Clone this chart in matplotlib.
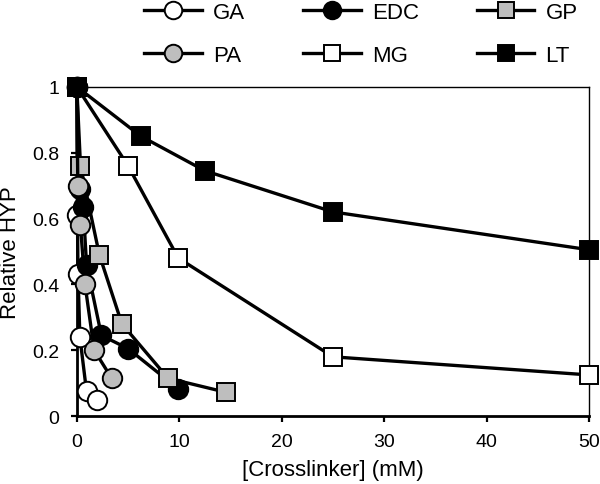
import matplotlib
matplotlib.use("Agg")
import matplotlib.pyplot as plt
from matplotlib.ticker import FixedLocator

plt.rcParams['font.family'] = ['Liberation Sans', 'DejaVu Sans']

# data
ga_x = [0, 0.06, 0.12, 0.3, 0.95, 2.0]
ga_y = [1, 0.61, 0.43, 0.24, 0.075, 0.05]
edc_x = [0, 0.31, 0.625, 0.95, 2.4, 5.0, 9.9]
edc_y = [1, 0.69, 0.635, 0.46, 0.245, 0.205, 0.083]
gp_x = [0, 0.36, 2.2, 4.4, 8.9, 14.6]
gp_y = [1, 0.76, 0.49, 0.28, 0.115, 0.072]
pa_x = [0, 0.1, 0.35, 0.8, 1.7, 3.4]
pa_y = [1, 0.70, 0.58, 0.40, 0.20, 0.115]
mg_x = [0, 5.0, 9.9, 25, 50]
mg_y = [1, 0.76, 0.48, 0.18, 0.125]
lt_x = [0, 6.25, 12.5, 25, 50]
lt_y = [1, 0.85, 0.745, 0.62, 0.505]

GRAY = '#bebebe'

fig = plt.figure(figsize=(6, 4.85), dpi=100)
ax = fig.add_axes([0.128, 0.14, 0.854, 0.679])

lw = 2.4
mew = 1.4
series = [
    ('GA', ga_x, ga_y, 'o', 'white', 14),
    ('EDC', edc_x, edc_y, 'o', 'black', 14),
    ('GP', gp_x, gp_y, 's', GRAY, 13),
    ('PA', pa_x, pa_y, 'o', GRAY, 14),
    ('MG', mg_x, mg_y, 's', 'white', 13),
    ('LT', lt_x, lt_y, 's', 'black', 13.5),
]
handles = {}
for i, (name, x, y, m, fc, ms) in enumerate(series):
    h, = ax.plot(x, y, color='black', lw=lw, marker=m, markersize=ms,
                 markerfacecolor=fc, markeredgecolor='black', markeredgewidth=mew,
                 clip_on=False, zorder=3 + i, label=name)
    handles[name] = h

ax.set_xlim(0, 50)
ax.set_ylim(0, 1)
ax.xaxis.set_major_locator(FixedLocator([0, 10, 20, 30, 40, 50]))
ax.yaxis.set_major_locator(FixedLocator([0, 0.2, 0.4, 0.6, 0.8, 1.0]))
ax.set_yticklabels(['0', '0.2', '0.4', '0.6', '0.8', '1'])
ax.tick_params(axis='both', direction='out', length=4.5, width=1.6, labelsize=14, pad=8)
ax.tick_params(top=False, right=False)
for s in ['left', 'bottom']:
    ax.spines[s].set_linewidth(2.0)
for s in ['top', 'right']:
    ax.spines[s].set_linewidth(1.0)

ax.set_xlabel('[Crosslinker] (mM)', fontsize=16, labelpad=6)
ax.set_ylabel('Relative HYP', fontsize=16, labelpad=8)

order = ['GA', 'PA', 'EDC', 'MG', 'GP', 'LT']
leg = fig.legend([handles[n] for n in order], order, ncol=3, frameon=False,
                 loc='upper left', bbox_to_anchor=(0.207, 1.035), fontsize=16,
                 handlelength=2.6, handletextpad=0.5, columnspacing=2.6,
                 labelspacing=1.0, markerscale=0.9)

fig.savefig('out.png', dpi=100)
